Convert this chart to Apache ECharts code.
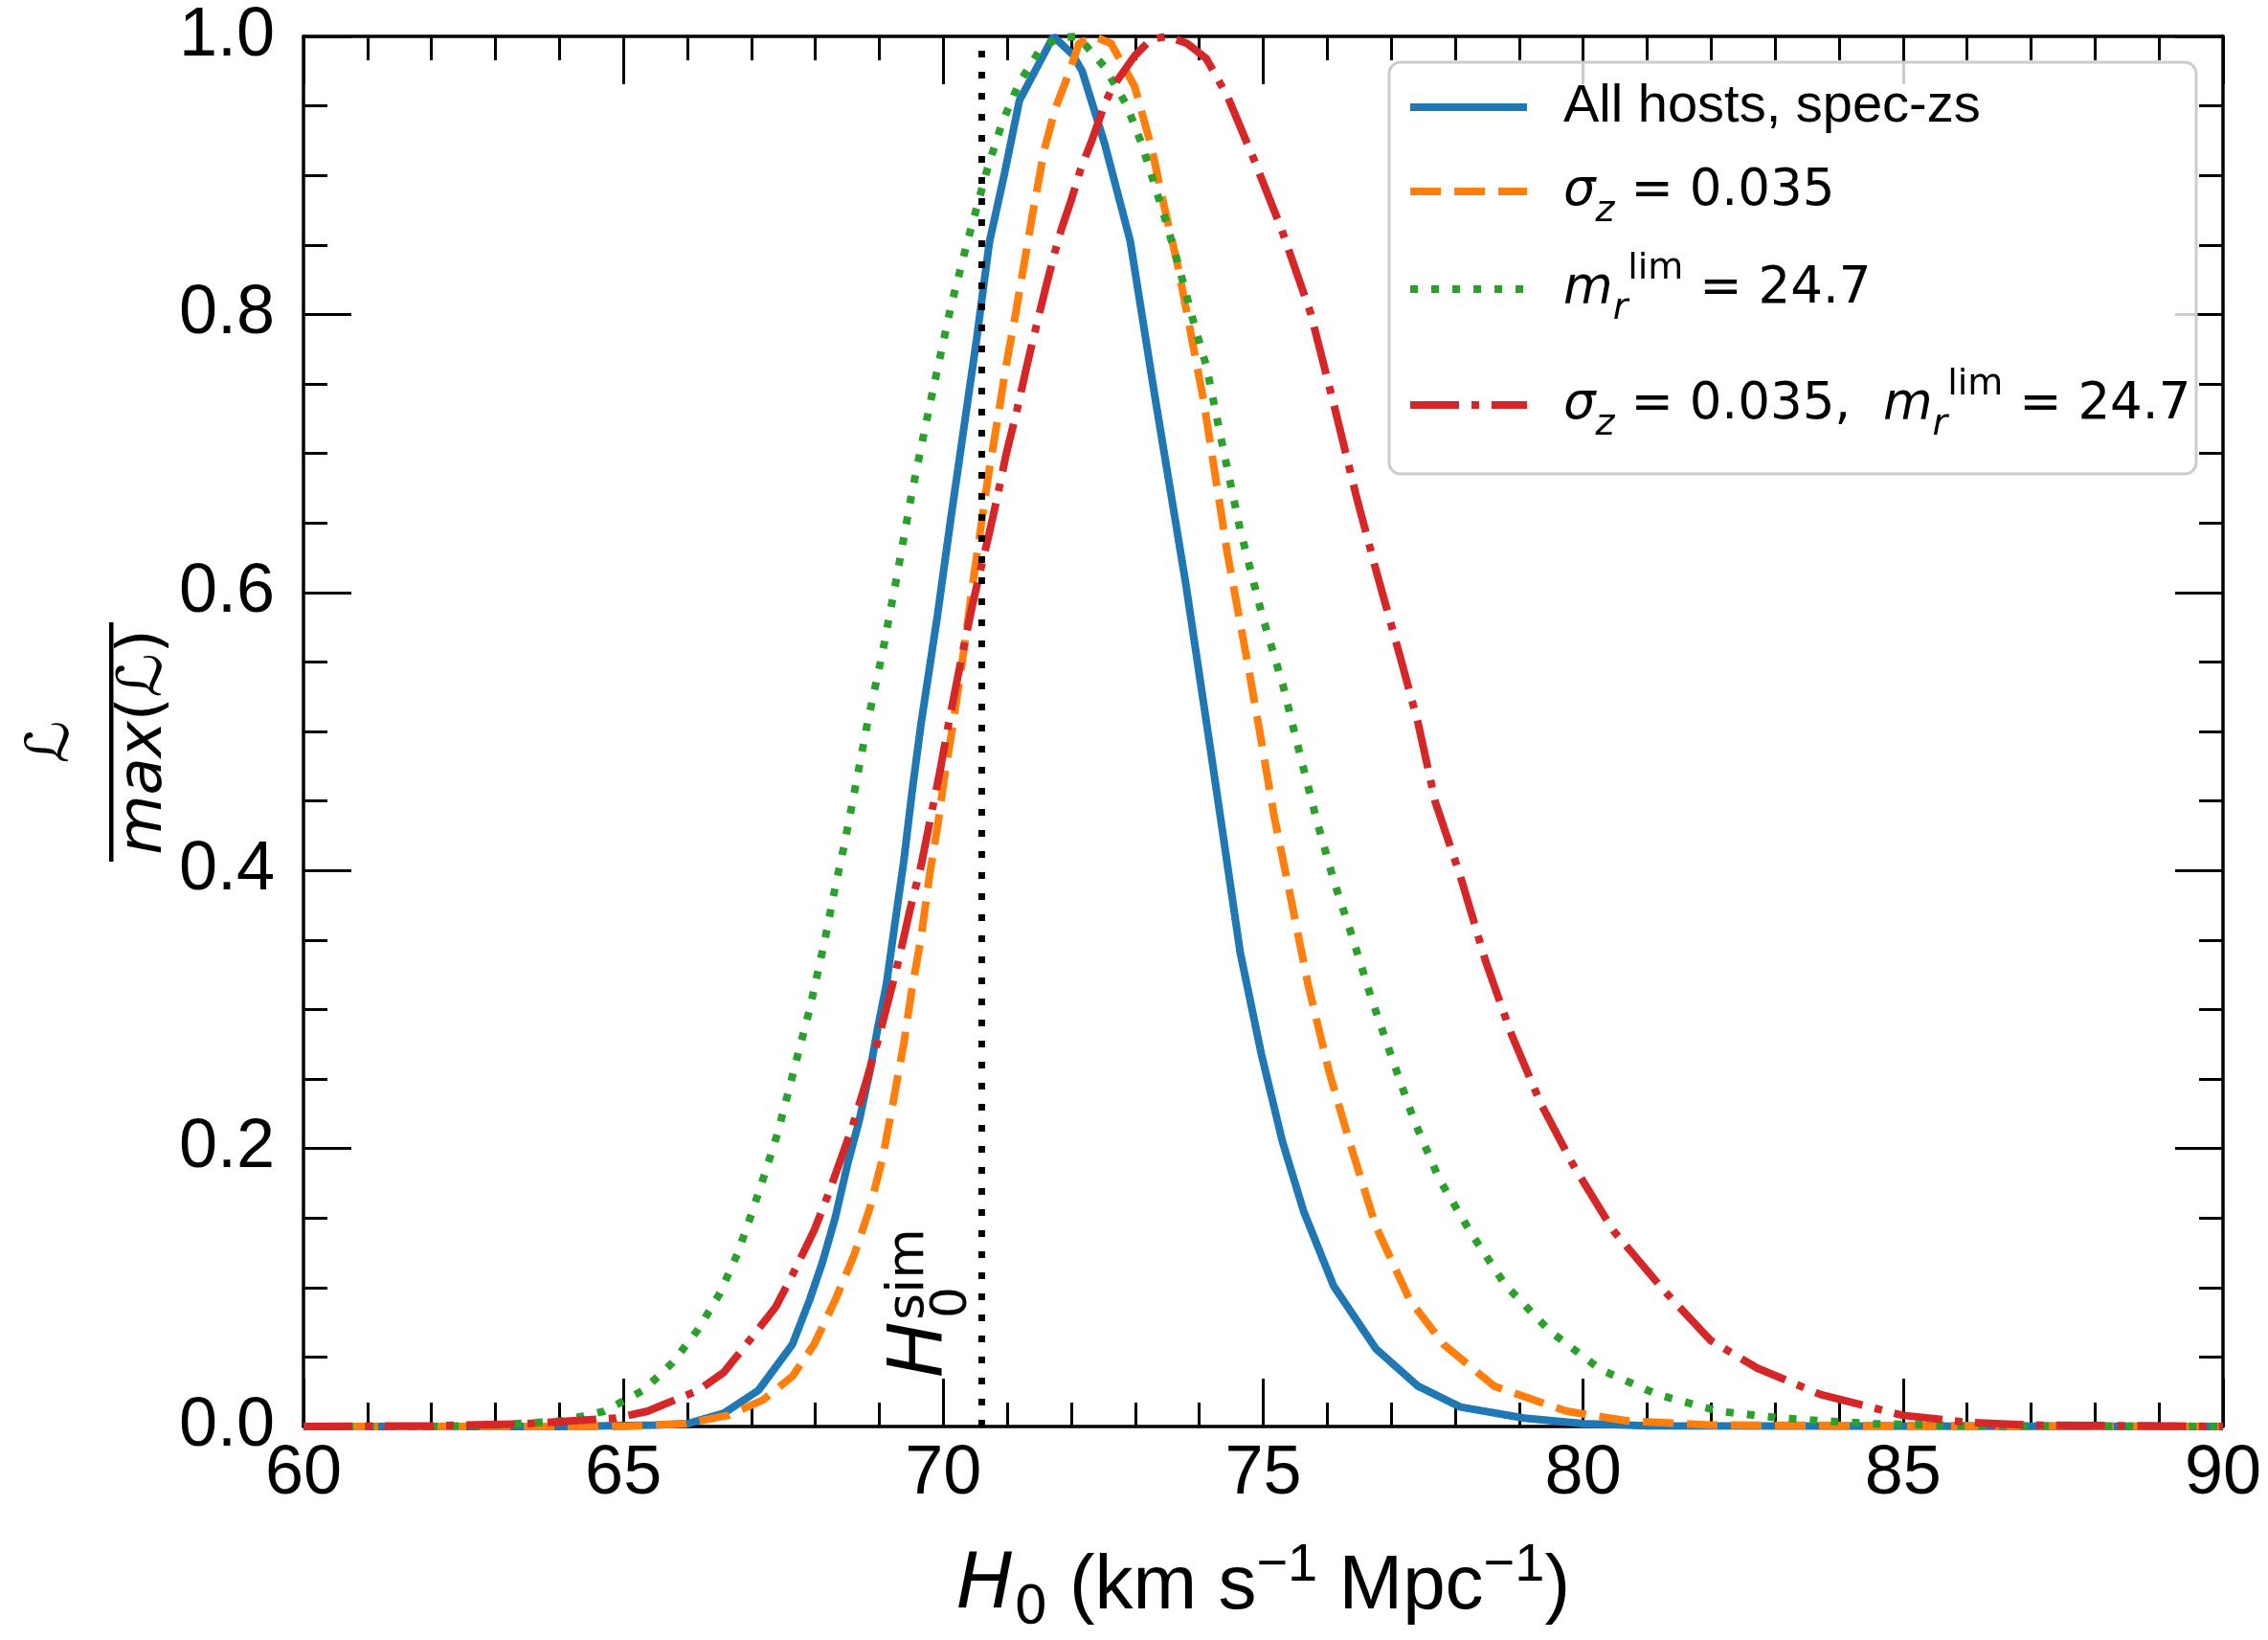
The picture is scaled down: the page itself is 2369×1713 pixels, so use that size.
<!DOCTYPE html>
<html>
<head>
<meta charset="utf-8">
<title>H0 likelihood</title>
<script src="https://cdn.jsdelivr.net/npm/echarts@6/dist/echarts.min.js"></script>
<style>
  html, body { margin: 0; padding: 0; background: #fff; }
  #main { width: 2369px; height: 1713px; }
</style>
</head>
<body>
<div id="main"></div>
<script>
"use strict";

var blueH0 = [60, 64, 65.5, 66, 66.57, 67.11, 67.64, 67.91, 68.11, 68.31, 68.51, 68.68, 68.85, 68.98, 69.11, 69.25, 69.38, 69.51, 69.65, 69.91, 70.12, 70.32, 70.52, 70.72, 70.95, 71.19, 71.72, 72.02, 72.17, 72.52, 72.92, 73.31, 73.79, 74.14, 74.38, 74.64, 74.97, 75.30, 75.63, 76.10, 76.76, 77.42, 78.08, 79.08, 80, 81, 90];
var blueL = [0, 0, 0.001, 0.002, 0.0096, 0.026, 0.059, 0.091, 0.118, 0.150, 0.190, 0.219, 0.255, 0.288, 0.318, 0.364, 0.406, 0.456, 0.505, 0.584, 0.654, 0.718, 0.782, 0.852, 0.900, 0.954, 1.0, 0.987, 0.975, 0.923, 0.853, 0.740, 0.606, 0.498, 0.423, 0.341, 0.268, 0.205, 0.155, 0.101, 0.056, 0.029, 0.014, 0.006, 0.002, 0.0005, 0];

var orangeH0 = [60, 65, 65.96, 66.64, 67.18, 67.64, 67.98, 68.31, 68.61, 68.85, 69.05, 69.21, 69.38, 69.51, 69.65, 69.78, 69.91, 70.01, 70.15, 70.32, 70.45, 70.58, 70.71, 70.85, 70.98, 71.12, 71.25, 71.39, 71.58, 71.75, 71.99, 72.12, 72.35, 72.62, 72.99, 73.26, 73.42, 73.66, 73.86, 74.06, 74.44, 74.78, 74.94, 75.17, 75.43, 75.70, 76.03, 76.36, 76.76, 77.29, 77.82, 78.61, 79.74, 80.7, 82, 90];
var orangeL = [0, 0, 0.002, 0.008, 0.019, 0.036, 0.059, 0.091, 0.124, 0.157, 0.193, 0.232, 0.275, 0.315, 0.351, 0.395, 0.432, 0.465, 0.505, 0.558, 0.603, 0.645, 0.686, 0.725, 0.763, 0.798, 0.833, 0.871, 0.919, 0.948, 0.977, 0.995, 1.0, 0.995, 0.964, 0.919, 0.884, 0.836, 0.788, 0.740, 0.628, 0.543, 0.501, 0.439, 0.380, 0.318, 0.255, 0.203, 0.144, 0.091, 0.059, 0.029, 0.011, 0.004, 0.001, 0];

var greenH0 = [60, 62, 63, 64.04, 64.70, 65.31, 65.77, 66.17, 66.51, 66.78, 67.01, 67.21, 67.41, 67.58, 67.74, 67.91, 68.14, 68.31, 68.45, 68.58, 68.81, 69.05, 69.28, 69.51, 69.78, 70.12, 70.38, 70.69, 70.92, 71.19, 71.52, 71.8, 72.1, 72.52, 72.86, 73.09, 73.29, 73.49, 73.66, 73.92, 74.11, 74.38, 74.64, 74.98, 75.31, 75.50, 75.83, 76.10, 76.40, 76.69, 77.02, 77.35, 77.75, 78.25, 78.78, 79.47, 80.27, 81.16, 82.12, 83.1, 84.5, 86, 90];
var greenL = [0, 0, 0.001, 0.004, 0.011, 0.026, 0.046, 0.070, 0.096, 0.124, 0.154, 0.182, 0.211, 0.241, 0.270, 0.300, 0.348, 0.388, 0.418, 0.449, 0.505, 0.557, 0.613, 0.672, 0.733, 0.806, 0.853, 0.905, 0.938, 0.967, 0.991, 0.999, 1.0, 0.978, 0.951, 0.924, 0.895, 0.865, 0.838, 0.793, 0.763, 0.702, 0.645, 0.584, 0.533, 0.497, 0.437, 0.393, 0.351, 0.308, 0.264, 0.221, 0.178, 0.139, 0.102, 0.069, 0.041, 0.023, 0.011, 0.006, 0.002, 0.0005, 0];

var redH0 = [60, 62, 63.5, 64.88, 65.38, 65.64, 66.17, 66.57, 67.04, 67.38, 67.64, 67.98, 68.21, 68.38, 68.58, 68.78, 68.98, 69.15, 69.31, 69.48, 69.65, 69.78, 69.95, 70.08, 70.28, 70.45, 70.58, 70.71, 70.85, 70.98, 71.15, 71.32, 71.45, 71.62, 71.75, 71.85, 71.99, 72.15, 72.32, 72.52, 72.65, 72.79, 72.99, 73.25, 73.5, 73.81, 74.11, 74.44, 74.84, 75.28, 75.74, 76.11, 76.45, 76.78, 77.15, 77.42, 77.69, 78.08, 78.48, 78.88, 79.34, 79.87, 80.47, 81.26, 81.99, 82.72, 83.71, 84.4, 85, 86, 87, 90];
var redL = [0, 0.0005, 0.002, 0.006, 0.011, 0.016, 0.026, 0.039, 0.066, 0.086, 0.109, 0.141, 0.168, 0.190, 0.216, 0.246, 0.278, 0.308, 0.337, 0.372, 0.403, 0.433, 0.472, 0.505, 0.552, 0.590, 0.616, 0.641, 0.670, 0.699, 0.731, 0.766, 0.791, 0.823, 0.846, 0.862, 0.881, 0.905, 0.925, 0.951, 0.964, 0.973, 0.986, 0.998, 1.0, 0.995, 0.984, 0.957, 0.913, 0.862, 0.801, 0.734, 0.670, 0.613, 0.552, 0.506, 0.449, 0.396, 0.334, 0.282, 0.232, 0.186, 0.141, 0.098, 0.062, 0.042, 0.023, 0.015, 0.008, 0.003, 0.001, 0];

// simulated H0 (dotted vertical line)
var h0Sim = 70.6;

var seriesNames = ['All hosts, spec-zs', 'sigma_z = 0.035', 'm_r^lim = 24.7', 'sigma_z = 0.035, m_r^lim = 24.7'];

var LABEL_FONT = 'Liberation Sans';
var MATH_FONT = 'DejaVu Sans';

function pairs(xs, ys) {
    return xs.map(function (x, i) { return [x, ys[i]]; });
}

// legend labels written as rich text (sub/superscripts)
var legendText = {};
legendText[seriesNames[0]] = '{sp| }{t|All hosts, spec-zs}';
legendText[seriesNames[1]] = '{sp| }{i|σ}{sub|z}{m| = 0.035}';
legendText[seriesNames[2]] = '{sp| }{i|m}{sub|r}{sup|lim}{m| = 24.7}';
legendText[seriesNames[3]] = '{sp| }{i|σ}{sub|z}{m| = 0.035,  }{i|m}{sub|r}{sup|lim}{m| = 24.7}';

var legendRich = {
    sp: { width: 33 },
    t: { fontFamily: LABEL_FONT, fontSize: 56, lineHeight: 80, color: '#000' },
    m: { fontFamily: MATH_FONT, fontSize: 53, lineHeight: 80, color: '#000' },
    i: { fontFamily: MATH_FONT, fontStyle: 'italic', fontSize: 53, lineHeight: 80, color: '#000' },
    sub: { fontFamily: MATH_FONT, fontStyle: 'italic', fontSize: 38, lineHeight: 48, verticalAlign: 'bottom', color: '#000' },
    sup: { fontFamily: MATH_FONT, fontSize: 38, lineHeight: 44, verticalAlign: 'top', color: '#000' }
};

// vertical centre of each legend row
var legendCenters = [121, 209, 307, 428];

function xAxisOpt(position, showLabel) {
    return {
        type: 'value', position: position, min: 60, max: 90, interval: 5, z: 3,
        axisLine: { show: true, onZero: false, lineStyle: { color: '#000', width: 3.5 } },
        axisTick: { show: true, inside: true, length: 50, lineStyle: { color: '#000', width: 3 } },
        minorTick: { show: true, splitNumber: 5, length: 25, lineStyle: { color: '#000', width: 3 } },
        splitLine: { show: false },
        minorSplitLine: { show: false },
        axisLabel: { show: showLabel, color: '#000', fontSize: 72, fontFamily: LABEL_FONT, margin: 14, showMinLabel: true, showMaxLabel: true }
    };
}

function yAxisOpt(position, showLabel) {
    return {
        type: 'value', position: position, min: 0, max: 1, interval: 0.2, z: 3,
        axisLine: { show: true, onZero: false, lineStyle: { color: '#000', width: 3.5 } },
        axisTick: { show: true, inside: true, length: 50, lineStyle: { color: '#000', width: 3 } },
        minorTick: { show: true, splitNumber: 4, length: 25, lineStyle: { color: '#000', width: 3 } },
        splitLine: { show: false },
        minorSplitLine: { show: false },
        axisLabel: {
            show: showLabel, color: '#000', fontSize: 72, fontFamily: LABEL_FONT, margin: 30,
            showMinLabel: true, showMaxLabel: true,
            formatter: function (v) { return v.toFixed(1); }
        }
    };
}

var xBottom = xAxisOpt('bottom', true);
xBottom.name = '{h|H}{sub|0}{t| (km s}{sup|−1}{t| Mpc}{sup|−1}{t|)}';
xBottom.nameLocation = 'middle';
xBottom.nameGap = 118;
xBottom.nameMoveOverlap = false;
xBottom.nameTextStyle = {
    rich: {
        h: { fontFamily: MATH_FONT, fontStyle: 'italic', fontSize: 80, lineHeight: 100, color: '#000' },
        t: { fontFamily: LABEL_FONT, fontSize: 80, lineHeight: 100, color: '#000' },
        sub: { fontFamily: MATH_FONT, fontSize: 56, lineHeight: 52, verticalAlign: 'bottom', color: '#000' },
        sup: { fontFamily: LABEL_FONT, fontSize: 56, lineHeight: 56, verticalAlign: 'top', color: '#000' }
    }
};

function lineSeries(name, xs, ys, color, dash) {
    return {
        name: name, type: 'line', xAxisIndex: 0, yAxisIndex: 0,
        data: pairs(xs, ys),
        symbol: 'none', showSymbol: false, smooth: false,
        lineStyle: { color: color, width: 8, type: dash },
        itemStyle: { color: color }
    };
}

var option = {
    animation: false,
    backgroundColor: '#fff',
    grid: { left: 317, right: 47, top: 38, bottom: 217 },
    xAxis: [xBottom, xAxisOpt('top', false)],
    yAxis: [yAxisOpt('left', true), yAxisOpt('right', false)],
    legend: seriesNames.map(function (n, i) {
        return {
            data: [n], orient: 'vertical', left: 1469, top: legendCenters[i] - 45,
            padding: 0, itemWidth: 122, itemHeight: 90, selectedMode: false, z: 5,
            itemStyle: { opacity: 0 },
            lineStyle: { width: 8 },
            formatter: function (name) { return legendText[name]; },
            textStyle: { rich: legendRich }
        };
    }),
    series: [
        lineSeries(seriesNames[0], blueH0, blueL, '#1f77b4', 'solid'),
        lineSeries(seriesNames[1], orangeH0, orangeL, '#ff7f0e', [32, 14]),
        lineSeries(seriesNames[2], greenH0, greenL, '#2ca02c', [8, 14]),
        lineSeries(seriesNames[3], redH0, redL, '#d62728', [51, 13, 8, 13]),
        {
            name: 'H0 sim', type: 'line', xAxisIndex: 0, yAxisIndex: 0,
            data: [[h0Sim, 0], [h0Sim, 1]],
            symbol: 'none', showSymbol: false,
            lineStyle: { color: '#000', width: 7, type: [7, 15] }
        }
    ],
    graphic: [
        {
            type: 'rect', z: 4,
            shape: { x: 1451, y: 65, width: 843, height: 430, r: 12 },
            style: { fill: 'rgba(255,255,255,0.8)', stroke: '#cccccc', lineWidth: 3 }
        },
        {
            // y axis label: L / max(L)
            type: 'group', x: 116, y: 775, rotation: Math.PI / 2,
            children: [
                { type: 'text', x: 0, y: -61, style: { text: 'ℒ', font: '62px "DejaVu Sans"', fill: '#000', align: 'center', verticalAlign: 'middle' } },
                { type: 'rect', shape: { x: -125, y: -2, width: 250, height: 4.5 }, style: { fill: '#000' } },
                {
                    type: 'text', x: 0, y: 35,
                    style: {
                        text: '{i|max}{n|(ℒ)}', align: 'center', verticalAlign: 'middle',
                        rich: {
                            i: { fontFamily: MATH_FONT, fontStyle: 'italic', fontSize: 64, color: '#000' },
                            n: { fontFamily: MATH_FONT, fontSize: 64, color: '#000' }
                        }
                    }
                }
            ]
        },
        {
            // H0^sim label next to the dotted line
            type: 'group', x: 963, y: 1439, rotation: Math.PI / 2,
            children: [
                { type: 'text', x: 0, y: 0, style: { text: 'H', font: 'italic 78px "DejaVu Sans"', fill: '#000', align: 'left', verticalAlign: 'middle' } },
                { type: 'text', x: 60, y: -13, style: { text: 'sim', font: '54px "DejaVu Sans"', fill: '#000', align: 'left', verticalAlign: 'middle' } },
                { type: 'text', x: 62, y: 32, style: { text: '0', font: '52px "DejaVu Sans"', fill: '#000', align: 'left', verticalAlign: 'middle' } }
            ]
        }
    ]
};

var myChart = echarts.init(document.getElementById('main'));
myChart.setOption(option);
</script>
</body>
</html>
